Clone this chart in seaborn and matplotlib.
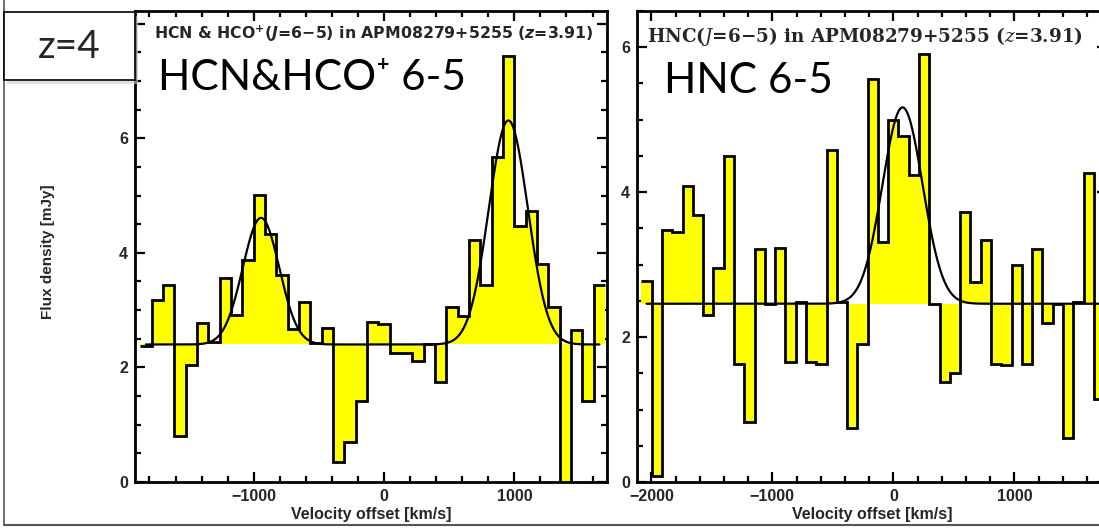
import numpy as np
import matplotlib
matplotlib.use("Agg")
import matplotlib.pyplot as plt
import seaborn as sns
from matplotlib.patches import Rectangle
from matplotlib.lines import Line2D
from matplotlib.ticker import MultipleLocator

# ---------------- data ----------------
hcn_velocity = [-1827, -1740, -1653, -1566, -1479, -1392, -1305, -1218, -1131, -1044,
                -957, -870, -783, -696, -609, -522, -435, -348, -261, -174,
                -87, 0, 87, 174, 261, 348, 435, 522, 609, 696,
                783, 870, 957, 1044, 1131, 1218, 1305, 1392, 1479, 1566, 1653]
hcn_flux = [2.37, 3.17, 3.44, 0.80, 2.05, 2.77, 2.45, 3.56, 2.92, 3.88,
            5.01, 4.33, 3.61, 2.67, 3.15, 2.43, 2.69, 0.35, 0.70, 1.41,
            2.79, 2.75, 2.25, 2.26, 2.11, 2.40, 1.74, 3.06, 2.89, 4.23,
            3.43, 5.67, 7.44, 4.47, 4.73, 3.80, 3.06, -0.05, 2.66, 1.42, 3.43]
hcn_fit_baseline = 2.40
hcn_fit_center = [-944, 954]
hcn_fit_amp = [2.21, 3.91]
hcn_fit_sigma = [140, 150]

hnc_velocity = [-2040, -1955, -1870, -1785, -1700, -1615, -1530, -1445, -1360, -1275,
                -1190, -1105, -1020, -935, -850, -765, -680, -595, -510, -425,
                -340, -255, -170, -85, 0, 85, 170, 255, 340, 425,
                510, 595, 680, 765, 850, 935, 1020, 1105, 1190, 1275,
                1360, 1445, 1530, 1615, 1700]
hnc_flux = [2.77, 0.08, 3.48, 3.45, 4.09, 3.68, 2.30, 2.95, 4.50, 1.63,
            0.83, 3.21, 2.46, 3.23, 1.66, 2.49, 1.65, 1.63, 4.58, 2.48,
            0.75, 1.91, 5.56, 3.31, 5.00, 4.78, 4.23, 5.90, 2.46, 1.38,
            1.50, 3.73, 2.76, 3.34, 1.63, 1.61, 2.99, 1.63, 3.22, 2.20,
            2.46, 0.61, 2.48, 4.26, 1.14]
hnc_fit_baseline = 2.46
hnc_fit_center = [76]
hnc_fit_amp = [2.71]
hnc_fit_sigma = [166]

left_title = "HCN & HCO$^{+}$($J$=6\u22125) in APM08279+5255 ($z$=3.91)"
right_title = "HNC($J$=6\u22125) in APM08279+5255 ($z$=3.91)"
left_label = "HCN&HCO\u207a 6-5"
right_label = "HNC 6-5"
x_label = "Velocity offset [km/s]"
y_label = "Flux density [mJy]"

# ---------------- style ----------------
sns.set_theme(style="ticks")
plt.rcParams["font.family"] = ["Liberation Sans", "DejaVu Sans"]
plt.rcParams["mathtext.fontset"] = "custom"
plt.rcParams["mathtext.rm"] = "DejaVu Sans:bold"
plt.rcParams["mathtext.it"] = "DejaVu Sans:italic:bold"
plt.rcParams["mathtext.bf"] = "DejaVu Sans:bold"

W, H = 1099, 528
fig = plt.figure(figsize=(W / 100, H / 100), dpi=100)
fig.patch.set_facecolor("white")


def frac_box(x0, x1, ytop, ybot):
    return [x0 / W, 1 - ybot / H, (x1 - x0) / W, (ybot - ytop) / H]


ax1 = fig.add_axes(frac_box(135, 607, 11, 482))
ax2 = fig.add_axes(frac_box(637, 1107, 11, 482))

YELLOW = "#FFFF00"


def edges_from(centers):
    c = np.asarray(centers, dtype=float)
    mid = (c[1:] + c[:-1]) / 2
    return np.concatenate([[c[0] - (c[1] - c[0]) / 2], mid, [c[-1] + (c[-1] - c[-2]) / 2]])


def draw_panel(ax, vel, flux, base, centers, amps, sigmas, xlim, ylim, ytick_major):
    edges = edges_from(vel)
    ax.stairs(flux, edges, baseline=base, fill=True, color=YELLOW, lw=0, zorder=1)
    ax.stairs(flux, edges, baseline=None, color="black", lw=2.0, zorder=3)
    vgrid = np.linspace(vel[0], vel[-1], 800)
    model = np.full_like(vgrid, base)
    for c, a, s in zip(centers, amps, sigmas):
        model = model + a * np.exp(-0.5 * ((vgrid - c) / s) ** 2)
    sns.lineplot(x=vgrid, y=model, ax=ax, color="black", lw=1.6, zorder=4)
    ax.set_xlim(*xlim)
    ax.set_ylim(*ylim)
    ax.xaxis.set_major_locator(MultipleLocator(1000))
    ax.xaxis.set_minor_locator(MultipleLocator(200))
    ax.yaxis.set_major_locator(MultipleLocator(ytick_major))
    ax.yaxis.set_minor_locator(MultipleLocator(0.5))
    ax.tick_params(which="both", direction="in", top=True, right=True, width=1.6,
                   color="black", labelsize=11.5, pad=5)
    ax.tick_params(which="major", length=7)
    ax.tick_params(which="minor", length=4)
    for lab in ax.get_xticklabels() + ax.get_yticklabels():
        lab.set_fontweight("bold")
    for sp in ax.spines.values():
        sp.set_linewidth(2.0)
        sp.set_color("black")
        sp.set_visible(True)
    ax.set_xlabel(x_label, fontsize=11.5, fontweight="bold", labelpad=2)
    ax.set_facecolor("white")


draw_panel(ax1, hcn_velocity, hcn_flux, hcn_fit_baseline, hcn_fit_center, hcn_fit_amp,
           hcn_fit_sigma, (-1911, 1711), (0, 8.22), 2)
draw_panel(ax2, hnc_velocity, hnc_flux, hnc_fit_baseline, hnc_fit_center, hnc_fit_amp,
           hnc_fit_sigma, (-2119, 1766), (0, 6.50), 2)

ax1.set_ylabel(y_label, fontsize=11, fontweight="bold")
ax1.yaxis.set_label_coords(-0.17, 0.49)

# in-panel titles
ax1.text(0.040, 0.952, left_title, transform=ax1.transAxes, ha="left", va="center",
         fontsize=11.3, fontweight="bold", family=["DejaVu Sans"], zorder=6)
ax2.text(0.022, 0.946, right_title, transform=ax2.transAxes, ha="left", va="center",
         fontsize=13.2, fontweight="bold", family=["DejaVu Serif"],
         math_fontfamily="dejavuserif", zorder=6)

ax1.text(0.049, 0.832, left_label, transform=ax1.transAxes, ha="left", va="baseline",
         fontsize=30.5, family=["Lato", "DejaVu Sans"], color="black", zorder=6)
ax2.text(0.058, 0.826, right_label, transform=ax2.transAxes, ha="left", va="baseline",
         fontsize=30.5, family=["Lato", "DejaVu Sans"], color="black", zorder=6)

# z=4 label box with shadow
shadow = Rectangle((7 / W, 1 - 84 / H), 131 / W, 68 / H, transform=fig.transFigure,
                   facecolor="#cccccc", edgecolor="none", alpha=0.6, zorder=9)
box = Rectangle((4 / W, 1 - 80 / H), 131 / W, 68 / H, transform=fig.transFigure,
                facecolor="white", edgecolor="black", lw=1.2, zorder=10)
fig.patches.extend([shadow, box])
fig.text(69 / W, 1 - 47 / H, "z=4", ha="center", va="center", fontsize=28,
         family=["Lato", "DejaVu Sans"], zorder=11)

# outer frame lines
fig.add_artist(Line2D([4 / W, 4 / W], [1 - 525 / H, 1.0], transform=fig.transFigure,
                      color="#555555", lw=1.2, zorder=8))
fig.add_artist(Line2D([4 / W, 1.0], [1 - 525 / H, 1 - 525 / H], transform=fig.transFigure,
                      color="#555555", lw=1.5, zorder=8))

fig.savefig("out.png", dpi=100, facecolor="white")
